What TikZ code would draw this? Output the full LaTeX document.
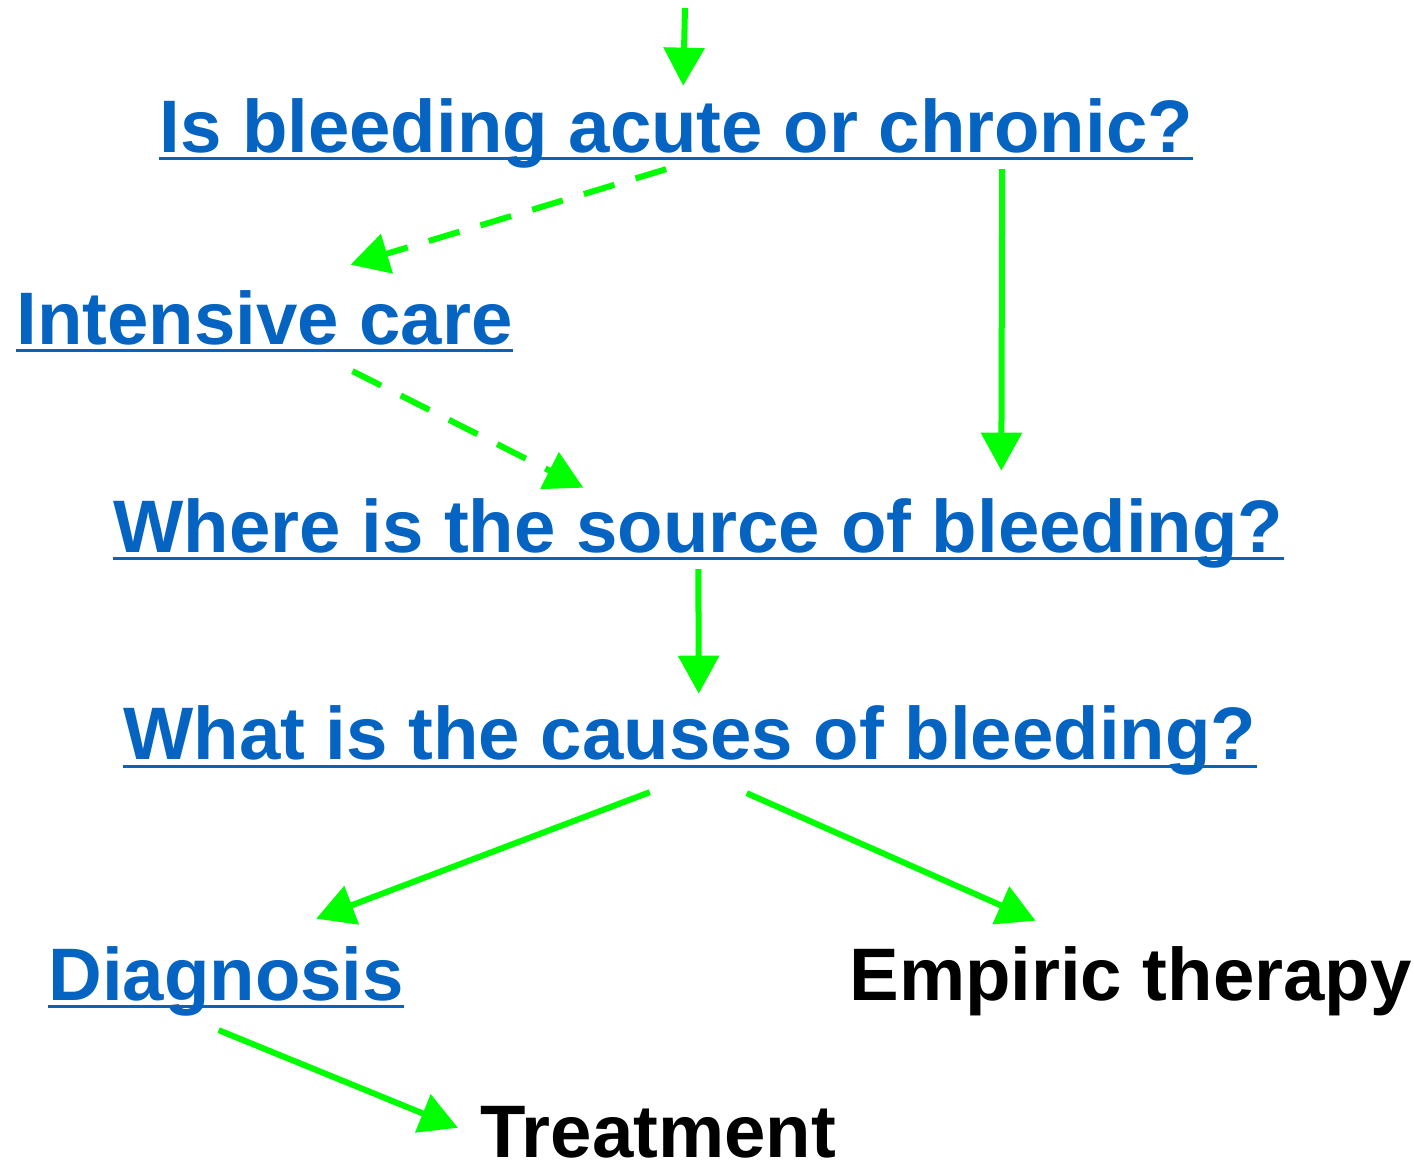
\documentclass[tikz,border=0pt]{standalone}
\usepackage{fontspec}
\setmainfont{Liberation Sans}
\usepackage{xcolor}
\usetikzlibrary{arrows.meta, positioning}

\definecolor{linkblue}{RGB}{5,99,193}
\definecolor{flowgreen}{RGB}{0,255,0}

\begin{document}
\begin{tikzpicture}[
    x=0.5pt, y=-0.5pt,
    >={Triangle[length=19pt, width=20pt]},
    txt/.style={inner sep=0pt, anchor=base west, font=\fontsize{37.2}{45}\selectfont\bfseries},
    link/.style={txt, text=linkblue,
        append after command={([yshift=-3pt]\tikzlastnode.base west) edge[draw=linkblue, line width=1.5pt] ([yshift=-3pt]\tikzlastnode.base east)}},
    plain/.style={txt, text=black},
    flow/.style={->, draw=flowgreen, line width=3pt},
    flowdash/.style={flow, dash pattern=on 16pt off 11pt},
]
    \useasboundingbox (0,0) rectangle (1414,1165);

    \node[link] (acute) at (159,153) {Is bleeding acute or chronic?};
    \node[link] (icu) at (16,345) {Intensive care};
    \node[link] (source) at (113,553) {Where is the source of bleeding?};
    \node[link] (causes) at (123,760) {What is the causes of bleeding?};
    \node[link] (diag) at (48,1000) {Diagnosis};
    \node[plain] (empiric) at (849,1000) {Empiric therapy};
    \node[plain] (treat) at (480,1157) {Treatment};
    \coordinate (top) at (685,8);

    % arrows
    \draw[flow] (top) -- ([shift={(7,-13)}]acute.north);
    \draw[flowdash] ([shift={(-10,0)}]acute.south) -- ([shift={(86,-26)}]icu.north);
    \draw[flow] ([shift={(326,0)}]acute.south) -- ([shift={(303,-28)}]source.north);
    \draw[flowdash] ([shift={(88,25)}]icu.south) -- ([shift={(-115,-11)}]source.north);
    \draw[flow] (source.south) -- ([shift={(9,-12)}]causes.north);
    \draw[flow] ([shift={(-40,16)}]causes.south) -- ([shift={(90,-27)}]diag.north);
    \draw[flow] ([shift={(57,17)}]causes.south) -- ([shift={(-95,-25)}]empiric.north);
    \draw[flow] ([shift={(-7.5,14)}]diag.south) -- ([shift={(-22,-4)}]treat.west);
\end{tikzpicture}
\end{document}
